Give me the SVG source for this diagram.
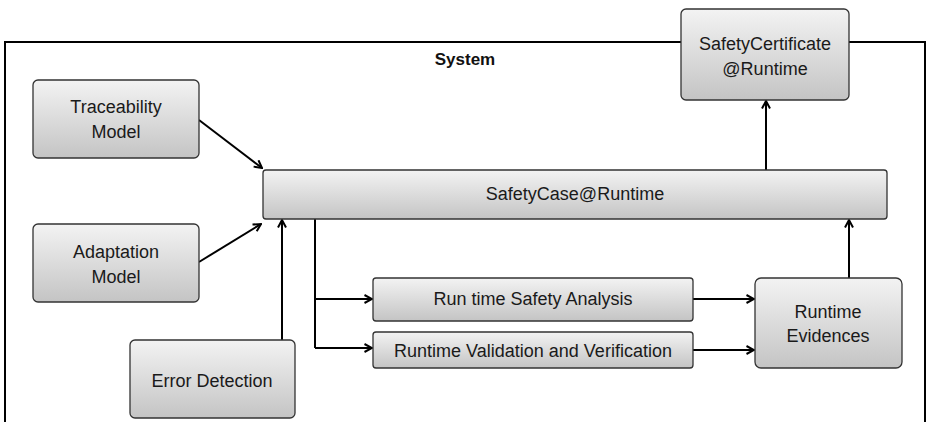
<svg xmlns="http://www.w3.org/2000/svg" width="927" height="422" viewBox="0 0 927 422">
<defs>
<linearGradient id="g" x1="0" y1="0" x2="0" y2="1">
<stop offset="0" stop-color="#f3f3f3"/>
<stop offset="1" stop-color="#c4c4c4"/>
</linearGradient>
<marker id="ah" viewBox="0 0 10 10" refX="9" refY="5" markerWidth="10" markerHeight="10" markerUnits="userSpaceOnUse" orient="auto">
<path d="M1.5,1 L9,5 L1.5,9" fill="none" stroke="#000" stroke-width="2"/>
</marker>
</defs>
<style>
.box{fill:url(#g);stroke:#333;stroke-width:1.3}
.t{font-family:"Liberation Sans",Arial,sans-serif;font-size:18px;fill:#1a1a1a;text-anchor:middle}
.c{fill:none;stroke:#000;stroke-width:2}
.a{marker-end:url(#ah)}
</style>
<rect id="system" x="5" y="42" width="920" height="420" fill="#fff" stroke="#000" stroke-width="2"/>
<text x="465" y="65" style="font-family:'Liberation Sans',Arial,sans-serif;font-size:17px;font-weight:bold;text-anchor:middle;fill:#111">System</text>
<g id="connectors">
<path class="c a" d="M199,120 L262,168"/>
<path class="c a" d="M199,262 L261,224"/>
<path class="c a" d="M282,340 V220"/>
<path class="c a" d="M766,170 V101"/>
<path class="c a" d="M849,278 V220"/>
<path class="c" d="M315,219 V348"/>
<path class="c a" d="M315,299 H372"/>
<path class="c a" d="M315,348 H372"/>
<path class="c a" d="M693,299 H754"/>
<path class="c a" d="M693,350 H754"/>
</g>
<g id="traceability">
<rect class="box" x="33" y="80" width="166" height="78" rx="5"/>
<text class="t" x="116" y="113">Traceability</text>
<text class="t" x="116" y="138">Model</text>
</g>
<g id="adaptation">
<rect class="box" x="33" y="224" width="166" height="78" rx="5"/>
<text class="t" x="116" y="258">Adaptation</text>
<text class="t" x="116" y="283">Model</text>
</g>
<g id="error-detection">
<rect class="box" x="130" y="340" width="165" height="78" rx="5"/>
<text class="t" x="212" y="387">Error Detection</text>
</g>
<g id="safetycase">
<rect class="box" x="263" y="170" width="624" height="49" rx="3"/>
<text class="t" x="575" y="200">SafetyCase@Runtime</text>
</g>
<g id="safetycertificate">
<rect class="box" x="681" y="9" width="168" height="91" rx="5"/>
<text class="t" x="765" y="50">SafetyCertificate</text>
<text class="t" x="765" y="75">@Runtime</text>
</g>
<g id="rtsa">
<rect class="box" x="373" y="278" width="320" height="43" rx="3"/>
<text class="t" x="533" y="305">Run time Safety Analysis</text>
</g>
<g id="rvv">
<rect class="box" x="373" y="332" width="320" height="36" rx="3"/>
<text class="t" x="533" y="357">Runtime Validation and Verification</text>
</g>
<g id="evidences">
<rect class="box" x="755" y="278" width="147" height="90" rx="6"/>
<text class="t" x="828" y="318">Runtime</text>
<text class="t" x="828" y="342">Evidences</text>
</g>
</svg>
